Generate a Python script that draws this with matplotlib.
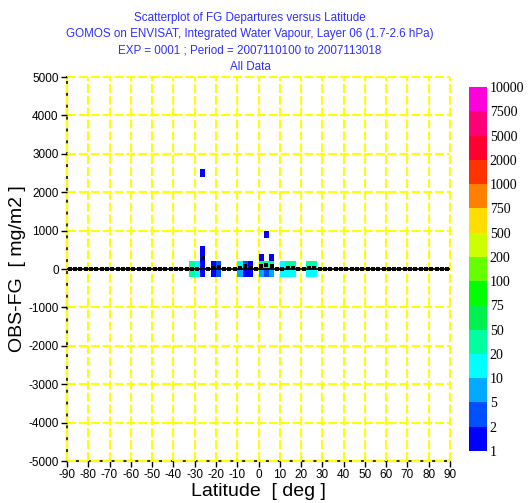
import matplotlib
matplotlib.use("Agg")
import matplotlib.pyplot as plt
import numpy as np
from matplotlib.colors import ListedColormap, BoundaryNorm

# ----------------------------------------------------------------------
# Data (2.5 deg x 200 mg/m2 bins)
# ----------------------------------------------------------------------
cell_lat = [-31.25, -31.25, -28.75, -28.75,
            -26.25, -26.25, -26.25, -26.25, -26.25,
            -21.25, -21.25, -18.75, -18.75,
            -8.75, -8.75, -6.25, -6.25, -3.75, -3.75,
            1.25, 1.25, 1.25, 3.75, 3.75, 3.75, 6.25, 6.25, 6.25,
            11.25, 11.25, 13.75, 13.75, 16.25, 16.25,
            23.75, 23.75, 26.25, 26.25]
cell_fg = [100, -100, 100, -100,
           -100, 100, 300, 500, 2500,
           100, -100, 100, -100,
           100, -100, 100, -100, 100, -100,
           300, 100, -100, 900, 100, -100, 300, 100, -100,
           100, -100, 100, -100, 100, -100,
           100, -100, 100, -100]
cell_count = [30, 30, 15, 15,
              1, 1, 1, 1, 1,
              1, 1, 3, 3,
              12, 7, 3, 1, 1, 1,
              1, 25, 7, 1, 25, 3, 1, 25, 7,
              12, 12, 25, 15, 25, 15,
              25, 15, 25, 15]

# per-bin mean departure (zero where no data)
mean_lat = [-31.25, -28.75, -26.25, -21.25, -18.75, -8.75, -6.25, -3.75,
            1.25, 3.75, 6.25, 11.25, 13.75, 16.25, 23.75, 26.25]
mean_fg = [10, 10, 295, 20, 50, 35, 80, 20,
           70, 105, 70, 10, 20, 20, 20, 20]

levels = [1, 2, 5, 10, 20, 50, 75, 100, 200, 500, 750, 1000, 2000, 5000, 7500, 10000]
level_colors = ['#0000ff', '#0050ff', '#00aaff', '#00ffff', '#00ffa0',
                '#00f050', '#00ff00', '#66ff00', '#ccff00', '#ffdd00',
                '#ff8000', '#ff3300', '#ff0030', '#ff0078', '#ff00dd']

title_lines = ["Scatterplot of FG Departures versus Latitude",
               "GOMOS on ENVISAT, Integrated Water Vapour, Layer 06 (1.7-2.6 hPa)",
               "EXP = 0001 ; Period = 2007110100 to 2007113018",
               "All Data"]

# ----------------------------------------------------------------------
W, H = 529, 503
plt.rcParams['font.family'] = ['Liberation Sans', 'DejaVu Sans']
plt.rcParams['axes.unicode_minus'] = False
fig = plt.figure(figsize=(W / 100, H / 100), dpi=100)

ax = fig.add_axes([67 / W, 1 - 461 / H, (450 - 67) / W, (461 - 77) / H])

lat_edges = np.arange(-90, 90.01, 2.5)
fg_edges = np.arange(-5000, 5000.1, 200)
hist, _, _ = np.histogram2d(cell_lat, cell_fg, bins=[lat_edges, fg_edges], weights=cell_count)
hist = np.ma.masked_where(hist <= 0, hist)

cmap = ListedColormap(level_colors)
norm = BoundaryNorm(levels, cmap.N)
mesh = ax.pcolormesh(lat_edges, fg_edges, hist.T, cmap=cmap, norm=norm, zorder=1)

# zero line plus per-bin mean markers
centers = (lat_edges[:-1] + lat_edges[1:]) / 2
line_vals = np.zeros_like(centers)
for la, v in zip(mean_lat, mean_fg):
    line_vals[np.argmin(np.abs(centers - la))] = v
ax.axhline(0, color='black', lw=1.3, zorder=3)
ax.plot(centers, line_vals, ls='none', color='black', marker='s', ms=2.2, mew=0, zorder=4)

ax.set_xlim(-90, 90)
ax.set_ylim(-5000, 5000)
ax.set_xticks(np.arange(-90, 91, 10))
ax.set_yticks(np.arange(-5000, 5001, 1000))
ax.tick_params(labelsize=8.5, length=4, width=1, pad=2, direction='out')
ax.grid(True, color='yellow', lw=1.5, linestyle=(0, (4.3, 1.4)), zorder=0.5)
ax.set_axisbelow(True)
for gl in ax.get_xgridlines() + ax.get_ygridlines():
    gl.set_clip_on(False)
for s in ('top', 'right'):
    ax.spines[s].set_visible(False)
for s in ('left', 'bottom'):
    ax.spines[s].set_color('#333300')
    ax.spines[s].set_linewidth(1.5)
    ax.spines[s].set_zorder(0.4)

ax.set_xlabel("Latitude  [ deg ]", fontsize=14, labelpad=1)
ax.set_ylabel("OBS-FG  [ mg/m2 ]", fontsize=14, labelpad=2)

fig.text(250 / W, 1 - 12 / H, "\n".join(title_lines), ha='center', va='top',
         fontsize=8.4, color='#3030ff', linespacing=1.48)

# colour key
cax = fig.add_axes([469 / W, 1 - 451 / H, 18 / W, (451 - 87) / H])
cb = fig.colorbar(mesh, cax=cax, ticks=levels, spacing='uniform')
cb.outline.set_visible(False)
cax.tick_params(length=0, pad=2)
cax.set_yticklabels([str(v) for v in levels], family='Liberation Serif', fontsize=10)

fig.savefig("out.png", dpi=100)
